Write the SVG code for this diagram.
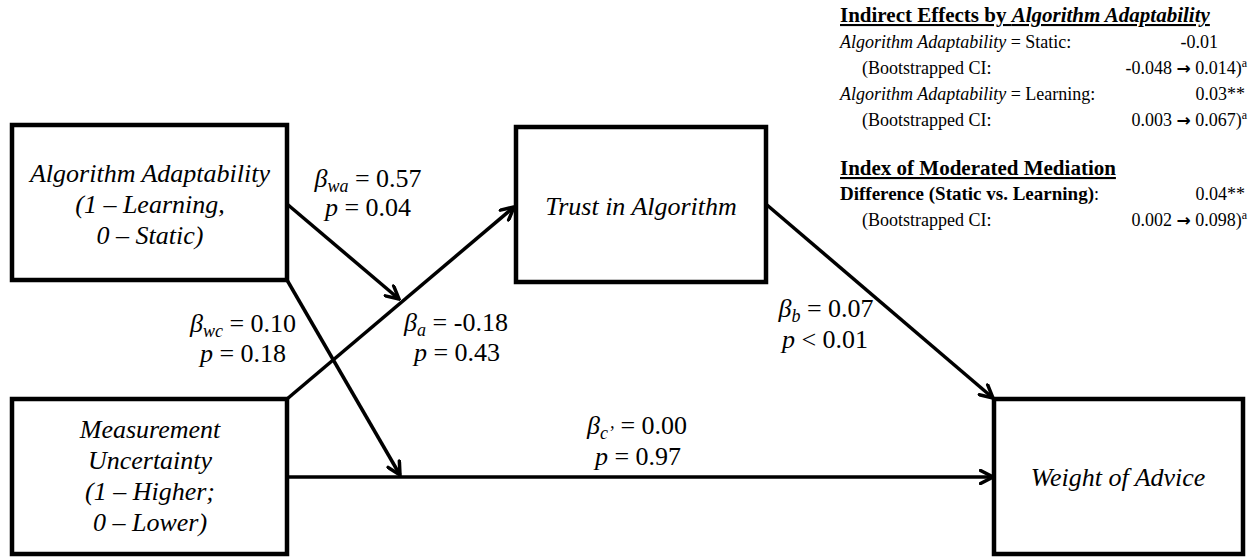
<svg xmlns="http://www.w3.org/2000/svg" width="1249" height="557" viewBox="0 0 1249 557">
<style>
.box{fill:#fff;stroke:#000;stroke-width:4.5}
.nt{font-family:"Liberation Serif","Times New Roman",serif;font-style:italic;font-size:26px;fill:#000;text-anchor:middle}
.lb{font-family:"Liberation Serif","Times New Roman",serif;font-size:26px;fill:#000;text-anchor:middle}
.it{font-style:italic}
.sub{font-style:italic;font-size:18px}
.conn{stroke:#000;stroke-width:3.5;fill:none}
.tr{font-family:"Liberation Serif","Times New Roman",serif;font-size:18px;fill:#000}
.hd{font-weight:bold;font-size:21px;text-decoration:underline}
.sup{font-size:12px}
.ar{font-family:"DejaVu Sans",sans-serif;font-weight:bold;font-size:17px}
</style>
<defs>
<marker id="ah" viewBox="0 0 16 16" refX="14.5" refY="8" markerWidth="16" markerHeight="16" markerUnits="userSpaceOnUse" orient="auto">
<path d="M2,1.5 L14.5,8 L2,14.5" fill="none" stroke="#000" stroke-width="3.5" stroke-linejoin="miter" stroke-linecap="round"/>
</marker>
</defs>
<rect width="1249" height="557" fill="#fff"/>

<g id="connectors">
<line class="conn" x1="287" y1="204" x2="399" y2="299" marker-end="url(#ah)"/>
<line class="conn" x1="287" y1="399" x2="514" y2="207" marker-end="url(#ah)"/>
<line class="conn" x1="287" y1="280" x2="400" y2="475" marker-end="url(#ah)"/>
<line class="conn" x1="287" y1="477" x2="993" y2="477" marker-end="url(#ah)"/>
<line class="conn" x1="767" y1="205" x2="993" y2="398" marker-end="url(#ah)"/>
</g>

<g id="node-algorithm-adaptability">
<rect class="box" x="12" y="125" width="275" height="155"/>
<text class="nt" x="150" y="182">Algorithm Adaptability</text>
<text class="nt" x="150" y="213">(1 – Learning,</text>
<text class="nt" x="150" y="244">0 – Static)</text>
</g>

<g id="node-measurement-uncertainty">
<rect class="box" x="12" y="399" width="275" height="155"/>
<text class="nt" x="150" y="438">Measurement</text>
<text class="nt" x="150" y="469">Uncertainty</text>
<text class="nt" x="150" y="500">(1 – Higher;</text>
<text class="nt" x="150" y="531">0 – Lower)</text>
</g>

<g id="node-trust">
<rect class="box" x="516" y="127" width="250" height="155"/>
<text class="nt" x="641" y="215">Trust in Algorithm</text>
</g>

<g id="node-weight">
<rect class="box" x="994" y="399" width="249" height="155"/>
<text class="nt" x="1118" y="486">Weight of Advice</text>
</g>

<g id="labels">
<text class="lb" x="368" y="187"><tspan class="it">β</tspan><tspan class="sub" dy="5">wa</tspan><tspan dy="-5"> = 0.57</tspan></text>
<text class="lb" x="368" y="216"><tspan class="it">p</tspan> = 0.04</text>
<text class="lb" x="243" y="332"><tspan class="it">β</tspan><tspan class="sub" dy="5">wc</tspan><tspan dy="-5"> = 0.10</tspan></text>
<text class="lb" x="243" y="362"><tspan class="it">p</tspan> = 0.18</text>
<text class="lb" x="456" y="331"><tspan class="it">β</tspan><tspan class="sub" dy="5">a</tspan><tspan dy="-5"> = -0.18</tspan></text>
<text class="lb" x="457" y="361"><tspan class="it">p</tspan> = 0.43</text>
<text class="lb" x="826" y="317"><tspan class="it">β</tspan><tspan class="sub" dy="5">b</tspan><tspan dy="-5"> = 0.07</tspan></text>
<text class="lb" x="825" y="348"><tspan class="it">p</tspan> &lt; 0.01</text>
<text class="lb" x="637" y="434"><tspan class="it">β</tspan><tspan class="sub" dy="5">c’</tspan><tspan dy="-5"> = 0.00</tspan></text>
<text class="lb" x="638" y="465"><tspan class="it">p</tspan> = 0.97</text>
</g>

<g id="indirect-effects">
<text class="tr hd" x="840" y="22">Indirect Effects by <tspan font-style="italic">Algorithm Adaptability</tspan></text>
<text class="tr" x="840" y="48"><tspan font-style="italic">Algorithm Adaptability</tspan> = Static:</text>
<text class="tr" x="1218" y="48" text-anchor="end">-0.01</text>
<text class="tr" x="862" y="74">(Bootstrapped CI:</text>
<text class="tr" x="1247" y="74" text-anchor="end">-0.048&#160;<tspan class="ar">→</tspan>&#160;0.014)<tspan class="sup" dy="-7">a</tspan></text>
<text class="tr" x="840" y="100"><tspan font-style="italic">Algorithm Adaptability</tspan> = Learning:</text>
<text class="tr" x="1245" y="100" text-anchor="end">0.03**</text>
<text class="tr" x="862" y="126">(Bootstrapped CI:</text>
<text class="tr" x="1247" y="126" text-anchor="end">0.003&#160;<tspan class="ar">→</tspan>&#160;0.067)<tspan class="sup" dy="-7">a</tspan></text>
</g>

<g id="moderated-mediation">
<text class="tr hd" x="840" y="175">Index of Moderated Mediation</text>
<text class="tr" x="840" y="200"><tspan font-weight="bold" font-size="19">Difference (Static vs. Learning)</tspan>:</text>
<text class="tr" x="1245" y="200" text-anchor="end">0.04**</text>
<text class="tr" x="862" y="226">(Bootstrapped CI:</text>
<text class="tr" x="1247" y="226" text-anchor="end">0.002&#160;<tspan class="ar">→</tspan>&#160;0.098)<tspan class="sup" dy="-7">a</tspan></text>
</g>
</svg>
